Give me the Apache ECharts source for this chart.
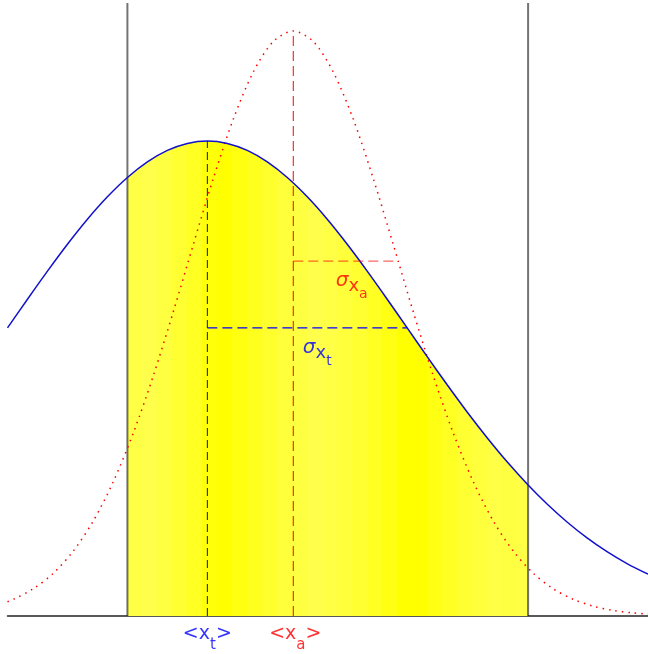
<!DOCTYPE html>
<html>
<head>
<meta charset="utf-8">
<script src="https://cdn.jsdelivr.net/npm/echarts@6/dist/echarts.min.js"></script>
<style>
  html, body { margin: 0; padding: 0; background: #fff; }
  #main { width: 648px; height: 654px; }
</style>
</head>
<body>
<div id="main"></div>
<script>
'use strict'
// measured distribution (blue, wide) sampled along x
var blueX = [0, 0.2, 0.4, 0.6, 0.8, 1.0, 1.2, 1.4, 1.6, 1.8, 2.0, 2.2, 2.4, 2.6, 2.8, 3.0, 3.2, 3.4, 3.6, 3.8, 4.0, 4.2, 4.4, 4.6, 4.8, 5.0, 5.21, 5.4, 5.6, 5.8, 6.0, 6.2, 6.41]
var blueY = [2.881, 3.168, 3.449, 3.718, 3.968, 4.192, 4.385, 4.541, 4.656, 4.726, 4.75, 4.726, 4.656, 4.541, 4.385, 4.192, 3.968, 3.718, 3.449, 3.168, 2.881, 2.594, 2.312, 2.040, 1.783, 1.542, 1.310, 1.120, 0.940, 0.781, 0.643, 0.524, 0.418]
// actual distribution (red, narrow)
var redX = [0, 0.06, 0.26, 0.46, 0.66, 0.86, 1.06, 1.26, 1.46, 1.66, 1.86, 2.06, 2.26, 2.46, 2.66, 2.86, 3.06, 3.26, 3.46, 3.66, 3.86, 4.06, 4.26, 4.46, 4.66, 4.86, 5.06, 5.26, 5.46, 5.66, 5.86, 6.06, 6.26, 6.41]
var redY = [0.143, 0.167, 0.273, 0.429, 0.652, 0.953, 1.346, 1.832, 2.405, 3.045, 3.717, 4.376, 4.969, 5.440, 5.745, 5.85, 5.745, 5.440, 4.969, 4.376, 3.717, 3.045, 2.405, 1.832, 1.346, 0.953, 0.652, 0.429, 0.273, 0.167, 0.099, 0.056, 0.031, 0.019]
// means, peaks, sigma-line heights and right ends
var meanT = 2.0
var meanA = 2.86
var peakT = 4.75
var peakA = 5.85
var sigLineT = [2.881, 4.0]
var sigLineA = [3.548, 3.91]
// window limits
var bounds = [1.2, 5.21]
var boundTop = 6.13
// yellow stripe edges and how pale each stripe is (0 = full yellow)
var stripeEdges = [1.2, 1.35, 1.5, 1.65, 1.8, 1.95, 2.1, 2.25, 2.4, 2.55, 2.7, 2.85, 3.0, 3.15, 3.3, 3.45, 3.6, 3.75, 3.9, 4.05, 4.2, 4.35, 4.5, 4.65, 4.8, 4.95, 5.1, 5.21]
var stripePale = [70, 75, 65, 50, 35, 10, 0, 15, 30, 45, 60, 65, 75, 70, 60, 50, 35, 20, 0, 0, 20, 35, 50, 60, 70, 65, 70]

function pairs (xs, ys) {
  return xs.map(function (x, i) { return [x, ys[i]] })
}

function segment (p0, p1, color, type, opacity, z, width) {
  return {
    type: 'line',
    data: [p0, p1],
    showSymbol: false,
    silent: true,
    z: z || 3,
    lineStyle: { color: color, width: width || 1.2, type: type || 'solid', opacity: opacity == null ? 1 : opacity }
  }
}

var chart = echarts.init(document.getElementById('main'))

var blueData = pairs(blueX, blueY)
var fillData = blueData.filter(function (p) { return p[0] >= bounds[0] && p[0] <= bounds[1] })

var span = bounds[1] - bounds[0]
var stops = []
stripePale.forEach(function (b, i) {
  var c = 'rgb(255,255,' + b + ')'
  stops.push({ offset: (stripeEdges[i] - bounds[0]) / span, color: c })
  stops.push({ offset: (stripeEdges[i + 1] - bounds[0]) / span, color: c })
})

function rich (color) {
  return {
    s: { color: color, fontFamily: 'DejaVu Sans', fontStyle: 'italic', fontSize: 20, verticalAlign: 'top' },
    x: { color: color, fontFamily: 'DejaVu Sans', fontSize: 18, verticalAlign: 'middle' },
    sub: { color: color, fontFamily: 'DejaVu Sans', fontSize: 14, lineHeight: 30, verticalAlign: 'bottom' },
    b: { color: color, fontFamily: 'DejaVu Sans', fontSize: 19, verticalAlign: 'top' },
    bsub: { color: color, fontFamily: 'DejaVu Sans', fontSize: 15, lineHeight: 28, verticalAlign: 'bottom' }
  }
}

function textPoint (pt, text, color, dist, dx) {
  return {
    type: 'scatter',
    data: [pt],
    symbolSize: 0,
    silent: true,
    clip: false,
    z: 10,
    label: {
      show: true,
      position: 'bottom',
      distance: dist,
      offset: [dx, 0],
      formatter: text,
      rich: rich(color)
    }
  }
}

var option = {
  animation: false,
  backgroundColor: '#fff',
  grid: { left: 7.5, right: 0, top: 0, bottom: 38 },
  xAxis: {
    type: 'value',
    min: 0,
    max: 6.41,
    axisLine: { show: true, onZero: false, lineStyle: { color: '#222', width: 1.5 } },
    axisTick: { show: false },
    axisLabel: { show: false },
    splitLine: { show: false }
  },
  yAxis: {
    type: 'value',
    min: 0,
    max: 6.16,
    show: false
  },
  series: [
    {
      type: 'line',
      data: fillData,
      smooth: 0.3,
      showSymbol: false,
      silent: true,
      z: 1,
      lineStyle: { width: 0 },
      areaStyle: { opacity: 1, color: new echarts.graphic.LinearGradient(0, 0, 1, 0, stops) }
    },
    segment([bounds[0], 0], [bounds[0], boundTop], '#000', 'solid', 0.55, 2, 2),
    segment([bounds[1], 0], [bounds[1], boundTop], '#000', 'solid', 0.55, 2, 2),
    {
      type: 'line',
      data: pairs(redX, redY),
      smooth: 0.3,
      showSymbol: false,
      silent: true,
      z: 4,
      lineStyle: { color: '#ff0000', width: 1.5, type: [1.5, 5] }
    },
    {
      type: 'line',
      data: blueData,
      smooth: 0.3,
      showSymbol: false,
      silent: true,
      z: 5,
      lineStyle: { color: '#1010cc', width: 1.5 }
    },
    segment([meanT, 0], [meanT, peakT], '#0000ff', [8, 4], 1, 6, 1),
    segment([meanA, 0], [meanA, peakA], '#ff0000', [10, 5], 1, 6, 1),
    segment([meanT, sigLineT[0]], [sigLineT[1], sigLineT[0]], '#0000ff', [10, 5], 1, 6),
    segment([meanA, sigLineA[0]], [sigLineA[1], sigLineA[0]], '#ff0000', [10, 5], 0.6, 6),
    textPoint([(meanA + sigLineA[1]) / 2, sigLineA[0]], '{s|σ}{x|x}{sub|a}', '#ff0000', 10, 6),
    textPoint([(meanT + sigLineT[1]) / 2, sigLineT[0]], '{s|σ}{x|x}{sub|t}', '#0000ff', 10, 10),
    textPoint([meanT, 0], '{b|<x}{bsub|t}{b|>}', '#0000ff', 9, 0),
    textPoint([meanA, 0], '{b|<x}{bsub|a}{b|>}', '#ff0000', 9, 2)
  ]
}

chart.setOption(option)
</script>
</body>
</html>
